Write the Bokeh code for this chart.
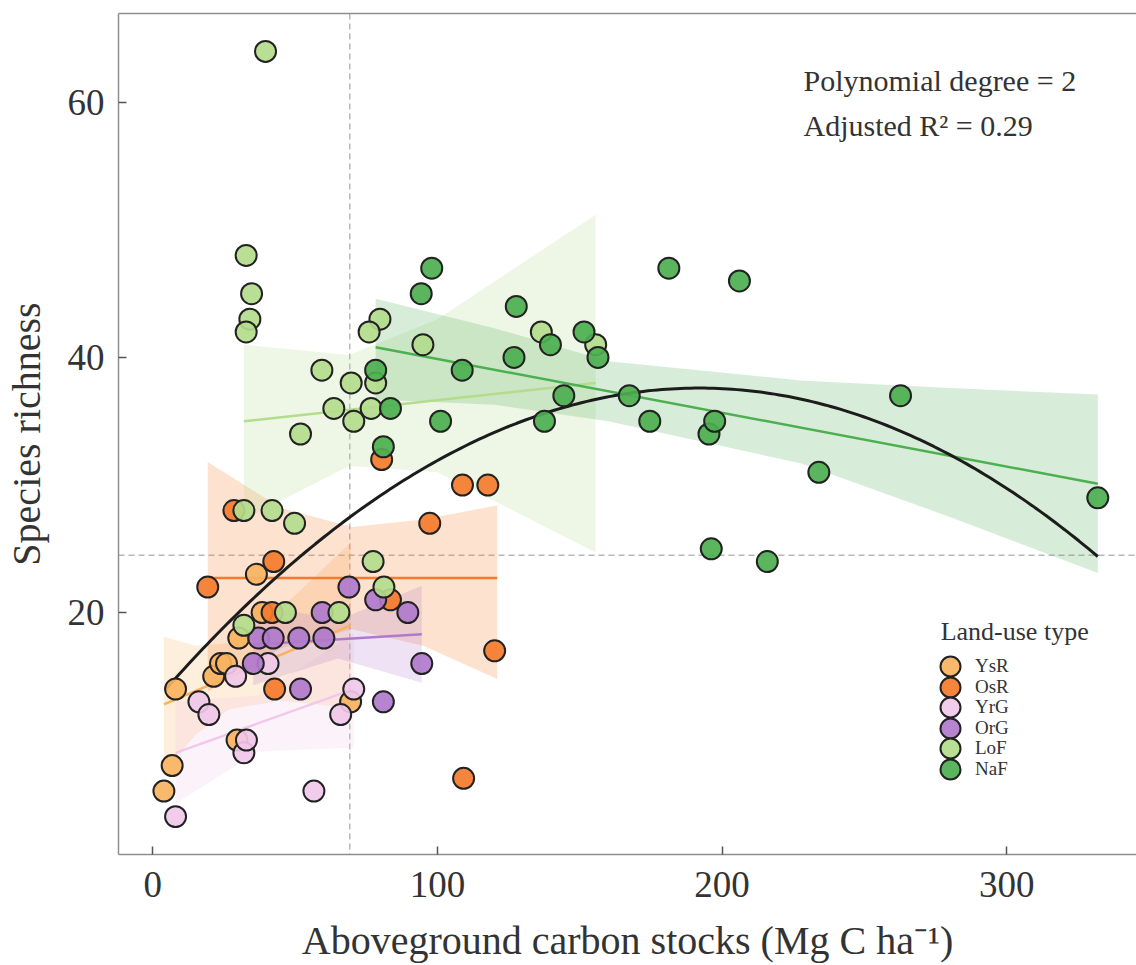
import numpy as np
from bokeh.plotting import figure
from bokeh.models import (Range1d, LinearAxis, FixedTicker, Span, Legend,
                          LegendItem, Label, ColumnDataSource)
from bokeh.embed import file_html
from bokeh.resources import INLINE

# ---------------- data ----------------
groups = ["YsR", "OsR", "YrG", "OrG", "LoF", "NaF"]
colors = ["#F9B35F", "#F47B2B", "#F1C8E9", "#B07ACC", "#B3DC8C", "#4CAF50"]

YsR_x = [3.9, 6.8, 8.0, 21.4, 23.8, 25.9, 29.6, 30.2, 36.4, 38.4, 69.5]
YsR_y = [6, 8, 14, 15, 16, 16, 10, 18, 23, 20, 13]

OsR_x = [19.3, 28.5, 41.9, 42.5, 42.8, 80.4, 83.5, 97.3, 108.8, 109.2, 117.7, 120.1]
OsR_y = [22, 28, 20, 24, 14, 32, 21, 27, 30, 7, 30, 17]

YrG_x = [8.0, 16.2, 19.7, 29.1, 32.0, 32.9, 40.5, 56.6, 66.0, 70.6]
YrG_y = [4, 13, 12, 15, 9, 10, 16, 6, 12, 14]

OrG_x = [35.3, 37.2, 42.3, 51.3, 51.9, 59.5, 60.1, 68.9, 78.3, 81.0, 89.6, 94.5]
OrG_y = [16, 18, 18, 18, 14, 20, 18, 22, 21, 13, 20, 16]

LoF_x = [39.6, 32.8, 34.7, 34.1, 32.8, 79.8, 76.0, 59.4, 78.3, 69.7, 63.6, 76.7, 70.6,
         51.9, 94.9, 136.5, 155.6, 32.0, 41.9, 49.8, 77.4, 81.2, 46.6, 65.4, 32.0]
LoF_y = [64, 48, 45, 43, 42, 43, 42, 39, 38, 38, 36, 36, 35,
         34, 41, 42, 41, 28, 28, 27, 24, 22, 20, 20, 19]

NaF_x = [78.3, 83.5, 81.0, 94.3, 98.0, 101.1, 108.7, 126.9, 127.7, 137.6, 139.7, 144.4,
         151.5, 156.4, 167.4, 174.6, 181.3, 195.4, 196.2, 197.4, 206.1, 215.9, 234.0,
         262.7, 332.0]
NaF_y = [39, 36, 33, 45, 47, 35, 39, 40, 44, 35, 41, 37,
         42, 40, 37, 35, 47, 34, 25, 35, 46, 24, 31, 37, 29]

# per-group fitted lines (end points) and confidence bands
YsR_line_x = [3.9, 69.5];  YsR_line_y = [12.8, 19.0]
YsR_band_x = [3.9, 15, 26.7, 45, 69.5]
YsR_band_lo = [7.5, 10.4, 12.4, 13.1, 12.5]
YsR_band_hi = [18.1, 17.4, 17.6, 20.3, 25.5]

OsR_line_x = [19.3, 121.0]; OsR_line_y = [22.7, 22.7]
OsR_band_x = [19.3, 45, 70, 95, 121]
OsR_band_lo = [13.8, 17.2, 18.7, 17.4, 14.8]
OsR_band_hi = [31.8, 28.2, 26.7, 27.3, 28.4]

YrG_line_x = [8.0, 70.6];  YrG_line_y = [9.0, 14.0]
YrG_band_x = [8.0, 37, 70.6]
YrG_band_lo = [5.0, 9.1, 9.4]
YrG_band_hi = [13.0, 13.5, 18.4]

OrG_line_x = [35.3, 94.5]; OrG_line_y = [17.5, 18.3]
OrG_band_x = [35.3, 65, 94.5]
OrG_band_lo = [14.3, 16.4, 14.5]
OrG_band_hi = [20.7, 19.4, 22.1]

LoF_line_x = [32.0, 155.6]; LoF_line_y = [35.0, 38.0]
LoF_band_x = [32, 69, 100, 155.6]
LoF_band_lo = [27.3, 31.5, 31.0, 24.7]
LoF_band_hi = [41.0, 40.2, 43.0, 51.2]

NaF_line_x = [78.3, 332.0]; NaF_line_y = [40.8, 30.1]
NaF_band_x = [78.3, 120, 160, 227.6, 280, 332]
NaF_band_lo = [36.7, 36.3, 35.0, 31.7, 27.5, 23.1]
NaF_band_hi = [44.6, 42.3, 39.7, 38.2, 37.6, 37.1]

# overall quadratic fit (polynomial degree 2): y = c0 + c1*x + c2*x^2
poly_coef = [12.827, 0.25818, -6.727e-4]
poly_x_range = [4.4, 332.0]

mean_x_line = 69.2
mean_y_line = 24.5

data = {
    "YsR": (YsR_x, YsR_y, YsR_line_x, YsR_line_y, YsR_band_x, YsR_band_lo, YsR_band_hi),
    "OsR": (OsR_x, OsR_y, OsR_line_x, OsR_line_y, OsR_band_x, OsR_band_lo, OsR_band_hi),
    "YrG": (YrG_x, YrG_y, YrG_line_x, YrG_line_y, YrG_band_x, YrG_band_lo, YrG_band_hi),
    "OrG": (OrG_x, OrG_y, OrG_line_x, OrG_line_y, OrG_band_x, OrG_band_lo, OrG_band_hi),
    "LoF": (LoF_x, LoF_y, LoF_line_x, LoF_line_y, LoF_band_x, LoF_band_lo, LoF_band_hi),
    "NaF": (NaF_x, NaF_y, NaF_line_x, NaF_line_y, NaF_band_x, NaF_band_lo, NaF_band_hi),
}

FONT = "Liberation Serif"
TXT = "#333333"
SPINE = "#8f8f8f"

p = figure(width=1136, height=965,
           x_range=Range1d(-12.05, 345.6), y_range=Range1d(1.03, 66.97),
           output_backend="svg", toolbar_location=None,
           min_border_left=118, min_border_right=0, min_border_top=13,
           min_border_bottom=110)
p.outline_line_color = None
p.grid.visible = False
p.background_fill_color = "white"
p.border_fill_color = "white"

for ax in (p.xaxis[0], p.yaxis[0]):
    ax.axis_line_color = SPINE
    ax.axis_line_width = 1.5
    ax.major_tick_in = 8
    ax.major_tick_out = 0
    ax.major_tick_line_color = "#555555"
    ax.major_tick_line_width = 1.5
    ax.minor_tick_line_color = None
    ax.major_label_text_font = FONT
    ax.major_label_text_font_size = "37px"
    ax.major_label_text_color = TXT
    ax.axis_label_text_font = FONT
    ax.axis_label_text_font_size = "40px"
    ax.axis_label_text_font_style = "normal"
    ax.axis_label_text_color = TXT

p.xaxis.ticker = FixedTicker(ticks=[0, 100, 200, 300])
p.yaxis.ticker = FixedTicker(ticks=[20, 40, 60])
p.xaxis.axis_label = "Aboveground carbon stocks (Mg C ha\u207b\u00b9)"
p.yaxis.axis_label = "Species richness"
p.xaxis.major_label_standoff = 17
p.yaxis.major_label_standoff = 14
p.xaxis.axis_label_standoff = 18
p.yaxis.axis_label_standoff = 16

top = LinearAxis(ticker=FixedTicker(ticks=[]), axis_line_color=SPINE, axis_line_width=1.5,
                 major_tick_line_color=None, minor_tick_line_color=None,
                 major_label_text_font_size="0px", major_label_standoff=0)
p.add_layout(top, "above")

vspan = Span(location=mean_x_line, dimension="height", line_color="#b8b8b8",
             line_dash="6 4", line_width=1.5, level="underlay")
hspan = Span(location=mean_y_line, dimension="width", line_color="#b8b8b8",
             line_dash="6 4", line_width=1.5, level="underlay")
p.add_layout(vspan)
p.add_layout(hspan)

# bands
for g, c in zip(groups, colors):
    x, y, lx, ly, bx, blo, bhi = data[g]
    p.varea(x=bx, y1=blo, y2=bhi, fill_color=c, fill_alpha=0.22)

# group lines
for g, c in zip(groups, colors):
    x, y, lx, ly, bx, blo, bhi = data[g]
    p.line(x=lx, y=ly, line_color=c, line_width=2.5)

# quadratic curve
qx = np.linspace(poly_x_range[0], poly_x_range[1], 200)
qy = poly_coef[0] + poly_coef[1] * qx + poly_coef[2] * qx ** 2
p.line(x=qx, y=qy, line_color="#1c1c1c", line_width=3)

# points
for g, c in zip(groups, colors):
    x, y, lx, ly, bx, blo, bhi = data[g]
    p.scatter(x=x, y=y, size=21, fill_color=c, fill_alpha=0.92,
              line_color="#222222", line_width=2)

# legend: one single-item legend per row (renderers without visible data)
LEG_X = 807          # px offset of legend boxes from the frame's left edge
LEG_Y0 = 163         # px offset of the first row box from the frame's bottom edge
LEG_STEP = 20.6      # row pitch in px
for i, (g, c) in enumerate(zip(groups, colors)):
    nan_src = ColumnDataSource(data=dict(x=[np.nan], y=[np.nan]))
    pt_r = p.scatter(x="x", y="y", source=nan_src, size=21, fill_color=c,
                     fill_alpha=0.92, line_color="#222222", line_width=2)
    leg = Legend(items=[LegendItem(label=g, renderers=[pt_r])],
                 location=(LEG_X, int(round(LEG_Y0 - i * LEG_STEP))),
                 label_text_font=FONT, label_text_font_size="19px", label_text_color=TXT,
                 glyph_width=50, glyph_height=50, label_height=50, spacing=0,
                 padding=0, margin=0, label_standoff=0,
                 border_line_color=None, background_fill_alpha=0)
    p.add_layout(leg)

leg_title = Label(x=276.8, y=18.5, text="Land-use type", text_font=FONT,
                  text_font_size="26px", text_color=TXT, text_baseline="alphabetic")
p.add_layout(leg_title)

ann1 = Label(x=228.6, y=61.74, text="Polynomial degree = 2", text_font=FONT,
             text_font_size="30px", text_color=TXT, text_baseline="alphabetic")
ann2 = Label(x=228.6, y=58.2, text="Adjusted R\u00b2 = 0.29", text_font=FONT,
             text_font_size="30px", text_color=TXT, text_baseline="alphabetic")
p.add_layout(ann1)
p.add_layout(ann2)

open("out.html", "w").write(file_html(p, INLINE))
